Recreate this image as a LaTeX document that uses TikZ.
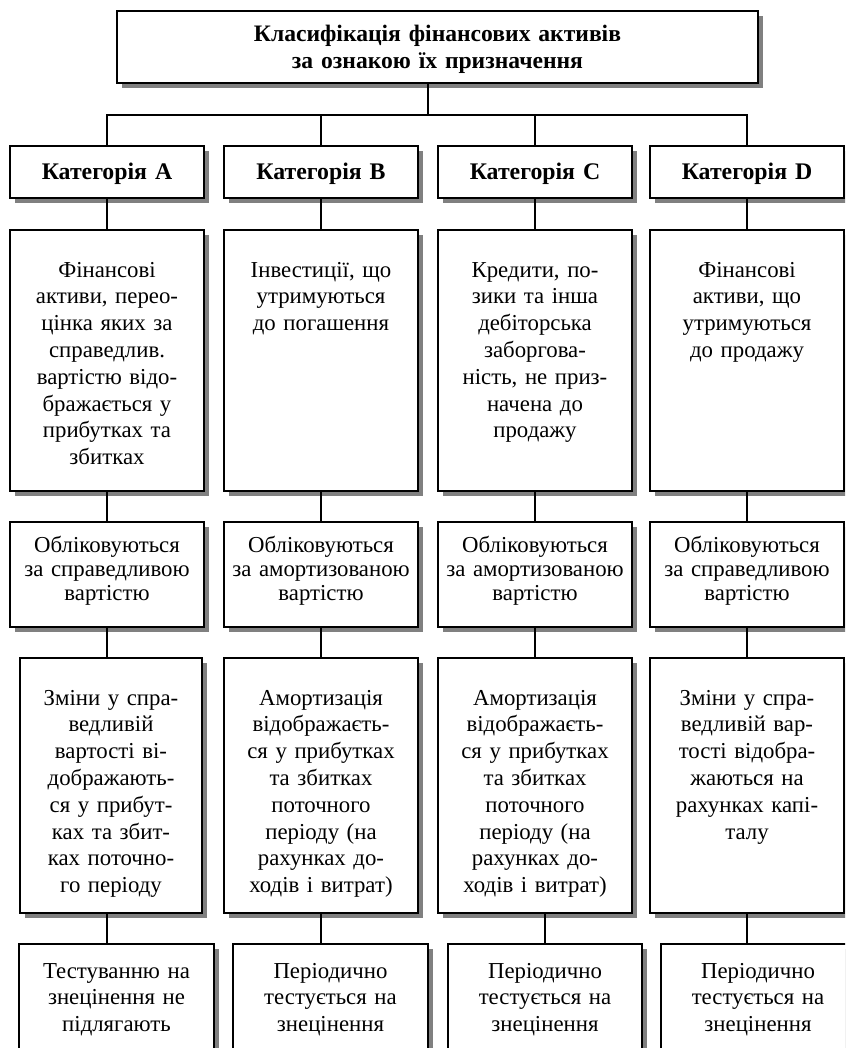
\documentclass[tikz,border=0pt]{standalone}
\usepackage{fontspec}
\setmainfont{Liberation Serif}
\usetikzlibrary{shadows}
\tikzset{
  cell/.style={draw, line width=2pt, fill=white, anchor=north west, inner sep=0pt, outer sep=0pt,
    drop shadow={shadow xshift=5pt, shadow yshift=-5pt, fill=black!50, opacity=1}},
  txt/.style={anchor=base, inner sep=0pt, align=center, font=\fontsize{22.8}{26.8}\selectfont},
  txtb/.style={anchor=base, inner sep=0pt, align=center, font=\fontsize{23.8}{26.8}\selectfont\bfseries},
  txtc/.style={anchor=base, inner sep=0pt, align=center, font=\fontsize{22.8}{24.2}\selectfont},
  link/.style={line width=2pt},
}
\begin{document}
\begin{tikzpicture}[x=1pt, y=-1pt]
\useasboundingbox (0,0) rectangle (845,1048);
\clip (0,0) rectangle (845,1048);
% title
\node[cell, minimum width=641pt, minimum height=72pt] (title) at (117,11) {};
\node[txtb, text width=641pt, font=\fontsize{23.6}{26.7}\selectfont\bfseries] (titlet) at (437.5,42) {Класифікація фінансових активів\\за ознакою їх призначення};
% categories
\node[cell, minimum width=194pt, minimum height=52pt] (a1) at (10,146) {};
\node[cell, minimum width=194pt, minimum height=52pt] (b1) at (224,146) {};
\node[cell, minimum width=194pt, minimum height=52pt] (c1) at (438,146) {};
\node[cell, minimum width=194pt, minimum height=52pt] (d1) at (650,146) {};
\node[txtb, text width=194pt] (a1t) at (a1.center |- 0,180) {Категорія A};
\node[txtb, text width=194pt] (b1t) at (b1.center |- 0,180) {Категорія B};
\node[txtb, text width=194pt] (c1t) at (c1.center |- 0,180) {Категорія C};
\node[txtb, text width=194pt] (d1t) at (d1.center |- 0,180) {Категорія D};
% row 2
\node[cell, minimum width=194pt, minimum height=261pt] (a2) at (10,230) {};
\node[cell, minimum width=194pt, minimum height=261pt] (b2) at (224,230) {};
\node[cell, minimum width=194pt, minimum height=261pt] (c2) at (438,230) {};
\node[cell, minimum width=194pt, minimum height=261pt] (d2) at (650,230) {};
\node[txt, text width=194pt] (a2t) at (a2.center |- 0,277) {Фінансові\\активи, перео-\\цінка яких за\\справедлив.\\вартістю відо-\\бражається у\\прибутках та\\збитках};
\node[txt, text width=194pt] (b2t) at (b2.center |- 0,277) {Інвестиції, що\\утримуються\\до погашення};
\node[txt, text width=194pt] (c2t) at (c2.center |- 0,277) {Кредити, по-\\зики та інша\\дебіторська\\заборгова-\\ність, не приз-\\начена до\\продажу};
\node[txt, text width=194pt] (d2t) at (d2.center |- 0,277) {Фінансові\\активи, що\\утримуються\\до продажу};
% row 3
\node[cell, minimum width=194pt, minimum height=105pt] (a3) at (10,522) {};
\node[cell, minimum width=194pt, minimum height=105pt] (b3) at (224,522) {};
\node[cell, minimum width=194pt, minimum height=105pt] (c3) at (438,522) {};
\node[cell, minimum width=194pt, minimum height=105pt] (d3) at (650,522) {};
\node[txtc, text width=194pt] (a3t) at (a3.center |- 0,552) {Обліковуються\\за справедливою\\вартістю};
\node[txtc, text width=194pt] (b3t) at (b3.center |- 0,552) {Обліковуються\\за амортизованою\\вартістю};
\node[txtc, text width=194pt] (c3t) at (c3.center |- 0,552) {Обліковуються\\за амортизованою\\вартістю};
\node[txtc, text width=194pt] (d3t) at (d3.center |- 0,552) {Обліковуються\\за справедливою\\вартістю};
% row 4
\node[cell, minimum width=182pt, minimum height=255pt] (a4) at (20,658) {};
\node[cell, minimum width=194pt, minimum height=255pt] (b4) at (224,658) {};
\node[cell, minimum width=194pt, minimum height=255pt] (c4) at (438,658) {};
\node[cell, minimum width=194pt, minimum height=255pt] (d4) at (650,658) {};
\node[txt, text width=182pt] (a4t) at (a4.center |- 0,705) {Зміни у спра-\\ведливій\\вартості ві-\\дображають-\\ся у прибут-\\ках та збит-\\ках поточно-\\го періоду};
\node[txt, text width=194pt] (b4t) at (b4.center |- 0,705) {Амортизація\\відображаєть-\\ся у прибутках\\та збитках\\поточного\\періоду (на\\рахунках до-\\ходів і витрат)};
\node[txt, text width=194pt] (c4t) at (c4.center |- 0,705) {Амортизація\\відображаєть-\\ся у прибутках\\та збитках\\поточного\\періоду (на\\рахунках до-\\ходів і витрат)};
\node[txt, text width=194pt] (d4t) at (d4.center |- 0,705) {Зміни у спра-\\ведливій вар-\\тості відобра-\\жаються на\\рахунках капі-\\талу};
% row 5
\node[cell, minimum width=195pt, minimum height=140pt] (a5) at (19,944) {};
\node[cell, minimum width=195pt, minimum height=140pt] (b5) at (233,944) {};
\node[cell, minimum width=194pt, minimum height=140pt] (c5) at (448,944) {};
\node[cell, minimum width=194pt, minimum height=140pt] (d5) at (661,944) {};
\node[txt, text width=195pt] (a5t) at (a5.center |- 0,978) {Тестуванню на\\знецінення не\\підлягають};
\node[txt, text width=195pt] (b5t) at (b5.center |- 0,978) {Періодично\\тестується на\\знецінення};
\node[txt, text width=194pt] (c5t) at (c5.center |- 0,978) {Періодично\\тестується на\\знецінення};
\node[txt, text width=194pt] (d5t) at (d5.center |- 0,978) {Періодично\\тестується на\\знецінення};
% connectors
\coordinate (hub) at (428,115);
\draw[link] (title.south -| hub) -- (hub);
\draw[link] (a1.north) -- (a1.north |- hub) -- (d1.north |- hub) -- (d1.north);
\draw[link] (b1.north) -- (b1.north |- hub);
\draw[link] (c1.north) -- (c1.north |- hub);
\foreach \c in {a,b,c,d}{
  \draw[link] (\c1.south) -- (\c2.north);
  \draw[link] (\c2.south) -- (\c3.north);
  \draw[link] (\c3.south) -- (\c3.south |- \c4.north);
}
\draw[link] (a3.south |- a4.south) -- (a3.south |- a5.north);
\draw[link] (b3.south |- b4.south) -- (b3.south |- b5.north);
\draw[link] (c5.north |- c4.south) -- (c5.north);
\draw[link] (d3.south |- d4.south) -- (d3.south |- d5.north);
\end{tikzpicture}
\end{document}
